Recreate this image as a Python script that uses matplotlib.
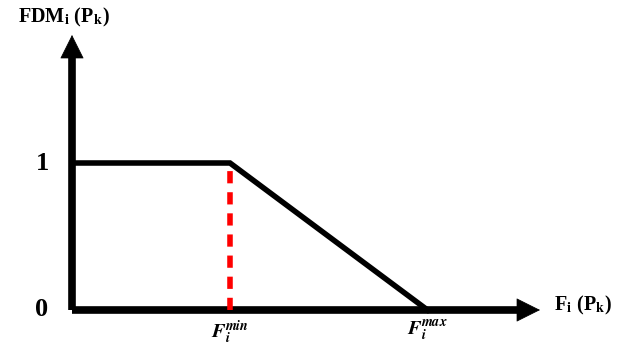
import matplotlib.pyplot as plt

plt.rcParams['mathtext.fontset'] = 'stix'
plt.rcParams['font.family'] = ['Liberation Serif', 'DejaVu Serif']

# membership curve: flat at 1 up to F_min, then down to 0 at F_max
x_pts = [0.02, 1.0, 2.25]
y_pts = [1.0, 1.0, 0.0]
f_min = 1.0
f_max = 2.25
y_ticks = [0, 1]
y_tick_labels = ['0', '1']

fig = plt.figure(figsize=(6.3, 3.45), dpi=100)
ax = fig.add_axes([0, 0, 1, 1])
px_x = 158.0   # pixels per x unit
px_y = 147.0   # pixels per y unit
ax.set_xlim(-72 / px_x, (630 - 72) / px_x)
ax.set_ylim(-35 / px_y, (345 - 35) / px_y)
ax.axis('off')

# axes with arrows
x_end = (540 - 72) / px_x
y_end = (310 - 35) / px_y
ax.plot([0, x_end - 0.12], [0, 0], color='black', lw=5.5, solid_capstyle='butt')
ax.plot([0, 0], [0, y_end - 0.15], color='black', lw=5.5, solid_capstyle='butt')
ax.annotate('', xy=(x_end, 0), xytext=(x_end - 0.17, 0),
            arrowprops=dict(arrowstyle='-|>,head_length=1.6,head_width=0.8',
                            color='black', lw=0.5, shrinkA=0, shrinkB=0))
ax.annotate('', xy=(0, y_end), xytext=(0, y_end - 0.2),
            arrowprops=dict(arrowstyle='-|>,head_length=1.6,head_width=0.8',
                            color='black', lw=0.5, shrinkA=0, shrinkB=0))

# curve
ax.plot(x_pts, y_pts, color='black', lw=4, solid_joinstyle='miter')
ax.plot([f_min, f_min], [0, 1], color='red', lw=4, ls=(0, (2.2, 1.6)))

# labels
for v, lab in zip(y_ticks, y_tick_labels):
    ax.text(-30 / px_x, v, lab, fontsize=19, fontweight='bold',
            ha='center', va='center')
ax.text(f_min, -0.06, r'$\mathbfit{F_i^{min}}$', fontsize=14.5,
        ha='center', va='top')
ax.text(f_max, -0.06, r'$\mathbfit{F_i^{max}}$', fontsize=14.5,
        ha='center', va='top')
ax.text(-54 / px_x, y_end + 0.12, r'FDM$_\mathbf{i}$ (P$_\mathbf{k}$)',
        fontsize=14.5, fontweight='bold', ha='left', va='center')
ax.text(x_end + 0.09, 0.03, r'F$_\mathbf{i}$ (P$_\mathbf{k}$)',
        fontsize=14.5, fontweight='bold', ha='left', va='center')

fig.savefig('out.png', dpi=100)
